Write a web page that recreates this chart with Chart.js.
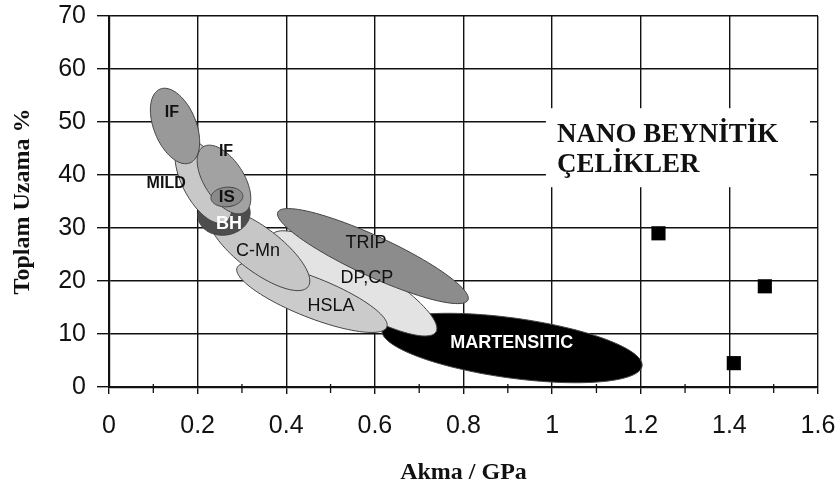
<!DOCTYPE html>
<html>
<head>
<meta charset="utf-8">
<title>Akma - Toplam Uzama</title>
<script src="https://cdn.jsdelivr.net/npm/chart.js@4.4.1/dist/chart.umd.min.js"></script>
<style>
	html, body { margin: 0; padding: 0; background: #fff; }
	#wrap { width: 840px; height: 494px; }
</style>
</head>
<body>
<div id="wrap"><canvas id="myChart" width="840" height="494"></canvas></div>
<script>
/* nano bainitic steels - measured points (GPa, %) */
const nanoYield = [1.24, 1.48, 1.41];
const nanoElong = [29, 19, 4.5];

/* axis ticks */
const yieldTicks = [0, 0.2, 0.4, 0.6, 0.8, 1, 1.2, 1.4, 1.6];
const elongTicks = [0, 10, 20, 30, 40, 50, 60, 70];

/* steel families (drawing order: back to front)
   each region = both ends of its long axis + one point on its side edge */
const steelNames = ['MARTENSITIC', 'DP,CP', 'TRIP', 'HSLA', 'C-Mn', 'BH', 'MILD', 'IF', 'IS', 'IF'];
const endAYield = [0.616, 0.368, 0.381, 0.289, 0.228, 0.201, 0.165, 0.212, 0.230, 0.115];
const endAElong = [10.75, 28.7, 33.0, 22.5, 33.0, 31.9, 46.6, 45.3, 35.7, 56.2];
const endBYield = [1.203, 0.738, 0.810, 0.627, 0.449, 0.318, 0.262, 0.307, 0.302, 0.183];
const endBElong = [3.96, 10.4, 16.4, 11.3, 18.9, 33.4, 31.1, 33.0, 36.0, 42.3];
const sideYield = [0.919, 0.580, 0.615, 0.475, 0.369, 0.267, 0.171, 0.297, 0.266, 0.193];
const sideElong = [12.96, 23.4, 28.1, 20.4, 29.2, 28.7, 37.0, 41.2, 37.7, 50.8];
const labelYield = [0.909, 0.582, 0.580, 0.501, 0.336, 0.271, 0.129, 0.264, 0.266, 0.142];
const labelElong = [8.3, 20.6, 27.2, 15.3, 25.7, 30.75, 38.3, 44.5, 35.85, 51.7];

/* looks */
const fills = ['#000000', '#e3e3e3', '#8c8c8c', '#cbcbcb', '#c6c6c6', '#4d4d4d', '#c8c8c8', '#a2a2a2', '#8a8a8a', '#999999'];
const labelColors = ['#fff', '#111', '#111', '#111', '#111', '#fff', '#111', '#111', '#111', '#111'];
const labelFonts = [
	'bold 18px "Liberation Sans"', '18px "Liberation Sans"', '18px "Liberation Sans"', '18px "Liberation Sans"',
	'18px "Liberation Sans"', 'bold 18px "Liberation Sans"', 'bold 16px "Liberation Sans"',
	'bold 16px "Liberation Sans"', 'bold 17px "Liberation Sans"', 'bold 16px "Liberation Sans"'
];

// ellipse through conjugate half axes, so it follows the scales exactly
function drawRegion(ctx, xs, ys, i) {
	const ax = xs.getPixelForValue(endAYield[i]), ay = ys.getPixelForValue(endAElong[i]);
	const bx = xs.getPixelForValue(endBYield[i]), by = ys.getPixelForValue(endBElong[i]);
	const sx = xs.getPixelForValue(sideYield[i]), sy = ys.getPixelForValue(sideElong[i]);
	const cx = (ax + bx) / 2, cy = (ay + by) / 2;
	const ux = bx - cx, uy = by - cy, vx = sx - cx, vy = sy - cy;
	ctx.beginPath();
	for (let k = 0; k <= 96; k++) {
		const t = k / 96 * Math.PI * 2;
		const px = cx + ux * Math.cos(t) + vx * Math.sin(t);
		const py = cy + uy * Math.cos(t) + vy * Math.sin(t);
		if (k === 0) ctx.moveTo(px, py); else ctx.lineTo(px, py);
	}
	ctx.closePath();
	ctx.fillStyle = fills[i];
	ctx.fill();
	ctx.lineWidth = 1;
	ctx.strokeStyle = '#444';
	ctx.stroke();
}

const regionsPlugin = {
	id: 'regions',
	beforeDatasetsDraw(chart) {
		const ctx = chart.ctx;
		const xs = chart.scales.x, ys = chart.scales.y;
		ctx.save();

		// minor ticks on the yield axis
		ctx.strokeStyle = '#111';
		ctx.lineWidth = 1.3;
		const axisY = ys.getPixelForValue(0);
		for (let i = 0; i < yieldTicks.length - 1; i++) {
			const px = xs.getPixelForValue((yieldTicks[i] + yieldTicks[i + 1]) / 2);
			ctx.beginPath();
			ctx.moveTo(px, axisY - 3);
			ctx.lineTo(px, axisY + 6);
			ctx.stroke();
		}

		for (let i = 0; i < steelNames.length; i++) drawRegion(ctx, xs, ys, i);

		ctx.textAlign = 'center';
		ctx.textBaseline = 'middle';
		for (let i = 0; i < steelNames.length; i++) {
			ctx.font = labelFonts[i];
			ctx.fillStyle = labelColors[i];
			ctx.fillText(steelNames[i], xs.getPixelForValue(labelYield[i]), ys.getPixelForValue(labelElong[i]));
		}

		// white box behind the nano bainite caption
		const l = xs.getPixelForValue(0.986), r = xs.getPixelForValue(1.582);
		const t = ys.getPixelForValue(52.6), b = ys.getPixelForValue(37.7);
		ctx.fillStyle = '#fff';
		ctx.fillRect(l, t, r - l, b - t);
		ctx.fillStyle = '#111';
		ctx.textAlign = 'left';
		ctx.textBaseline = 'alphabetic';
		ctx.font = 'bold 27px "Liberation Serif"';
		ctx.fillText('NANO BEYNİTİK', xs.getPixelForValue(1.011), ys.getPixelForValue(46.2));
		ctx.fillText('ÇELİKLER', xs.getPixelForValue(1.011), ys.getPixelForValue(40.6));
		ctx.restore();
	}
};

const tickFont = { family: '"Liberation Sans Narrow", "Liberation Sans"', size: 25 };
const titleFont = { family: 'Liberation Serif', size: 24, weight: 'bold' };

new Chart(document.getElementById('myChart'), {
	type: 'scatter',
	data: {
		datasets: [{
			label: 'Nano beynitik çelikler',
			data: nanoYield.map((v, i) => ({ x: v, y: nanoElong[i] })),
			pointStyle: 'rect',
			radius: 10,
			backgroundColor: '#000',
			borderWidth: 0
		}]
	},
	options: {
		responsive: false,
		animation: false,
		events: [],
		layout: { padding: { left: 0, top: 16, right: 22, bottom: 0 } },
		plugins: {
			legend: { display: false },
			tooltip: { enabled: false }
		},
		scales: {
			x: {
				type: 'linear',
				min: 0,
				max: 1.6,
				afterBuildTicks: s => { s.ticks = yieldTicks.map(v => ({ value: v })); },
				afterFit: s => { s.height = 107; s.paddingLeft = 0; s.paddingRight = 0; },
				ticks: { font: tickFont, color: '#111', padding: 17, maxRotation: 0, callback: v => String(v) },
				grid: { color: '#111', lineWidth: 1.4, tickLength: 7, tickColor: '#111' },
				border: { color: '#111', width: 2.2 },
				title: { display: true, text: 'Akma / GPa', font: titleFont, color: '#111', padding: { top: 0, bottom: 7 } }
			},
			y: {
				min: 0,
				max: 70,
				afterBuildTicks: s => { s.ticks = elongTicks.map(v => ({ value: v })); },
				afterFit: s => { s.width = 109; s.paddingTop = 0; s.paddingBottom = 0; },
				ticks: { font: tickFont, color: '#111', padding: 11, callback: v => String(v) },
				grid: { color: '#111', lineWidth: 1.4, tickLength: 12, tickColor: '#111' },
				border: { color: '#111', width: 2.2 },
				title: { display: true, text: 'Toplam Uzama %', font: titleFont, color: '#111', padding: { top: 8, bottom: 0 } }
			}
		}
	},
	plugins: [regionsPlugin]
});
</script>
</body>
</html>
